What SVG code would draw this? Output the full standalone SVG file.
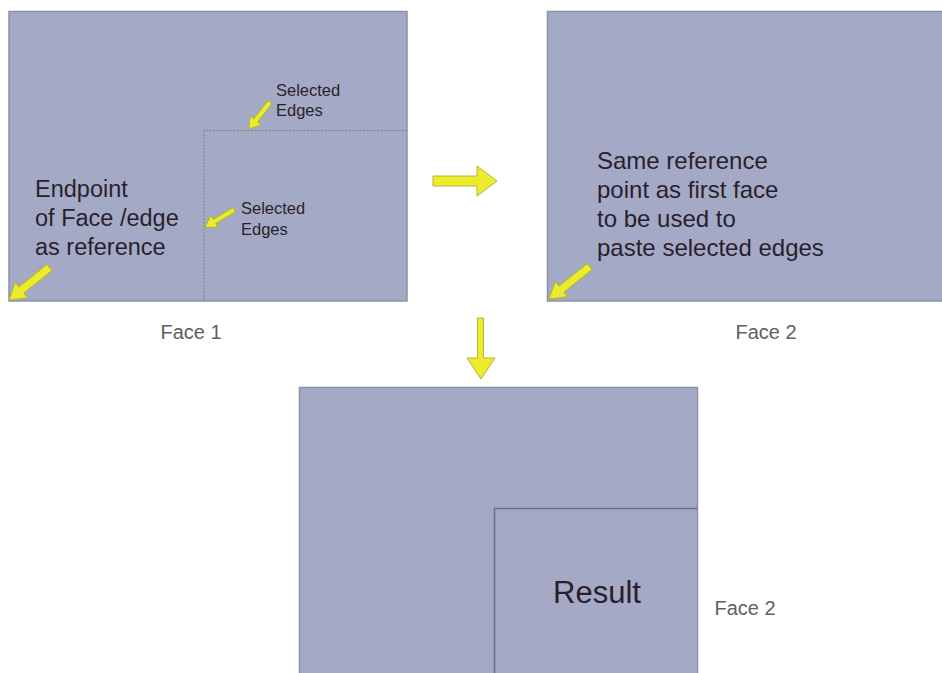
<svg xmlns="http://www.w3.org/2000/svg" xmlns:xlink="http://www.w3.org/1999/xlink" width="942" height="673" viewBox="0 0 942 673">
<style>
.face{fill:#a4aac5;stroke:#8d91a6;stroke-width:1.5}
.inner{fill:none;stroke:#7b7f92;stroke-width:1;stroke-dasharray:2 1.5}
.innerRes{fill:none;stroke:#6c6f82;stroke-width:1.5}
.yel{fill:#ecec2c;stroke:#b4b43a;stroke-width:1;stroke-linejoin:round}
.t{font-family:"Liberation Sans",Arial,sans-serif;fill:#2a1f2c}
.lbl{font-family:"Liberation Sans",Arial,sans-serif;fill:#606060;font-size:20px}
</style>
<defs>
<path id="arrS" d="M-34,-2.5 H-11 V-7 L0,0 L-11,7 V2.5 H-34 Z"/>
<path id="arrB" d="M-52,-4 H-16 V-10 L0,0 L-16,10 V4 H-52 Z"/>
</defs>
<rect width="942" height="673" fill="#ffffff"/>
<g id="face1">
<rect class="face" x="9" y="11.5" width="398" height="289.5"/>
<path class="inner" d="M407,130.5 H204 V301"/>
<text class="t" font-size="23.5" x="35" y="197">Endpoint</text>
<text class="t" font-size="23.5" x="35" y="226">of Face /edge</text>
<text class="t" font-size="23.5" x="35" y="255">as reference</text>
<text class="t" font-size="16.5" x="276" y="96">Selected</text>
<text class="t" font-size="16.5" x="276" y="116">Edges</text>
<text class="t" font-size="16.5" x="241" y="214">Selected</text>
<text class="t" font-size="16.5" x="241" y="235">Edges</text>
<use xlink:href="#arrS" class="yel" transform="translate(249,129) rotate(127.9)"/>
<use xlink:href="#arrS" class="yel" transform="translate(205,227) rotate(149.3)"/>
<use xlink:href="#arrB" class="yel" transform="translate(9,300) rotate(141.2)"/>
<text class="lbl" x="191" y="339" text-anchor="middle">Face 1</text>
</g>
<g id="face2">
<rect class="face" x="547.5" y="11.5" width="396" height="289.5"/>
<text class="t" font-size="24" x="597" y="169">Same reference</text>
<text class="t" font-size="24" x="597" y="198">point as first face</text>
<text class="t" font-size="24" x="597" y="227">to be used to</text>
<text class="t" font-size="24" x="597" y="256">paste selected edges</text>
<use xlink:href="#arrB" class="yel" transform="translate(549,299) rotate(141.5)"/>
<text class="lbl" x="766" y="339" text-anchor="middle">Face 2</text>
</g>
<g id="result">
<rect class="face" x="299.5" y="387.5" width="398" height="300"/>
<path class="innerRes" d="M697.5,508.5 H494.5 V680"/>
<text class="t" font-size="31" x="597" y="603" text-anchor="middle">Result</text>
<text class="lbl" x="745" y="615" text-anchor="middle">Face 2</text>
</g>
<g id="connectors">
<path class="yel" d="M433,176 H477 V166 L497,181 L477,196 V186 H433 Z"/>
<path class="yel" d="M477.5,318 H483.5 V358 H495 L481,379 L467,358 H477.5 Z"/>
</g>
</svg>
